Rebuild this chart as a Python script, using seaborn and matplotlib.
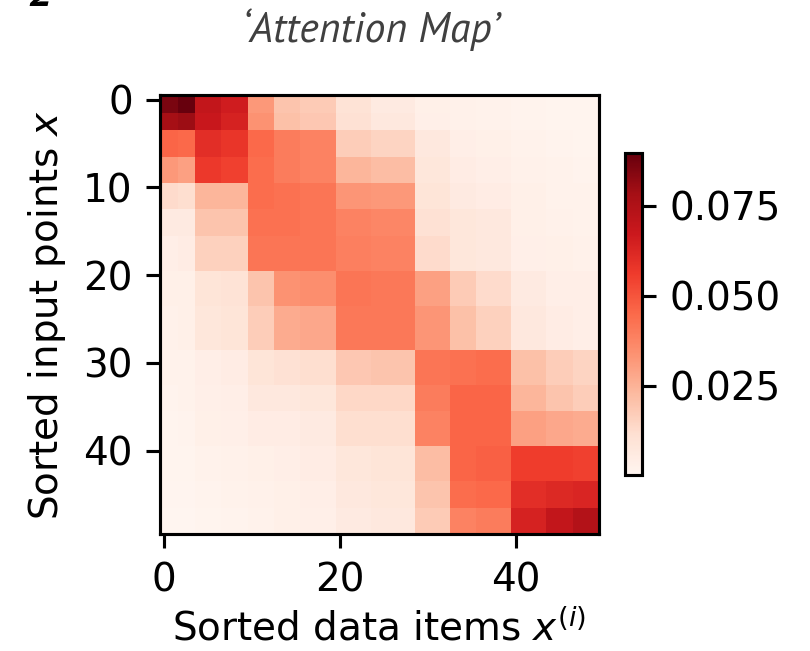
import numpy as np
import matplotlib
matplotlib.use("Agg")
import matplotlib.pyplot as plt
from matplotlib import font_manager
import seaborn as sns

# Segment edges (in sorted index units) shared by rows (input points) and columns (data items)
seg_edges = [0, 2, 4, 7, 10, 13, 16, 20, 24, 29, 33, 36, 40, 44, 47, 50]

# Attention weight per (row segment, column segment), in units of 1e-3
seg_weights = [
    [86.0, 89.6, 70.0, 66.0, 32.0, 20.0, 18.0, 10.0,  6.0,  3.0,  2.5,  2.0,  1.5,  1.2,  1.0],
    [78.0, 80.0, 68.0, 64.0, 34.0, 21.0, 19.0, 11.0,  7.0,  3.5,  2.5,  2.0,  1.5,  1.2,  1.0],
    [46.0, 45.0, 60.0, 58.0, 45.0, 40.0, 38.0, 17.0, 15.0,  7.0,  4.0,  3.0,  2.0,  1.5,  1.2],
    [32.0, 30.0, 57.0, 55.0, 44.0, 40.0, 38.0, 24.0, 22.0,  8.0,  5.0,  4.0,  2.5,  2.0,  1.5],
    [13.0, 12.0, 24.0, 24.0, 44.0, 43.0, 42.0, 33.0, 32.0,  9.0,  6.0,  5.0,  3.0,  2.0,  2.0],
    [ 6.0,  6.0, 20.0, 20.0, 43.0, 43.0, 42.0, 38.0, 37.0, 11.0,  8.0,  7.0,  3.0,  2.5,  2.0],
    [ 4.0,  5.0, 16.0, 16.0, 42.0, 42.0, 42.0, 39.0, 38.0, 13.0,  8.0,  7.0,  3.5,  3.0,  2.5],
    [ 3.0,  3.0,  9.0, 10.0, 20.0, 34.0, 35.0, 42.0, 41.0, 30.0, 18.0, 13.0,  6.0,  4.0,  4.0],
    [ 2.5,  3.0,  8.0,  9.0, 17.0, 27.0, 28.0, 41.0, 41.0, 33.0, 21.0, 16.0,  7.0,  5.0,  4.0],
    [ 2.0,  2.0,  4.0,  5.0,  9.0, 11.0, 12.0, 19.0, 20.0, 42.0, 43.0, 44.0, 21.0, 17.0, 15.0],
    [ 1.5,  2.0,  3.5,  4.0,  7.0,  7.0,  8.0, 14.0, 14.0, 40.0, 46.0, 46.0, 24.0, 20.0, 17.0],
    [ 1.2,  1.5,  3.0,  3.5,  5.0,  5.0,  6.0, 12.0, 12.0, 38.0, 46.0, 46.0, 30.0, 28.0, 27.0],
    [ 1.0,  1.0,  2.0,  2.5,  3.0,  4.0,  5.0,  8.0,  9.0, 22.0, 46.0, 47.0, 56.0, 56.0, 55.0],
    [ 0.6,  0.8,  1.5,  2.0,  2.5,  3.0,  4.0,  7.0,  8.0, 20.0, 44.0, 45.0, 60.0, 62.0, 63.0],
    [ 0.2,  0.5,  1.0,  1.5,  2.0,  3.0,  3.5,  6.0,  7.0, 18.0, 38.0, 40.0, 64.0, 70.0, 74.0],
]

x_tick_labels = ["0", "20", "40"]
y_tick_labels = ["0", "10", "20", "30", "40"]
cbar_ticks = [0.025, 0.050, 0.075]

# Expand segment weights to the full 50 x 50 attention matrix
seg_sizes = np.diff(seg_edges)
attention = np.repeat(np.repeat(np.array(seg_weights) * 1e-3, seg_sizes, axis=0), seg_sizes, axis=1)

plt.rcParams["font.family"] = "DejaVu Sans"
plt.rcParams["mathtext.fontset"] = "dejavusans"


def pick_family(candidates):
    """First family that ships both a regular-weight and a bold italic face."""
    faces = {}
    for f in font_manager.fontManager.ttflist:
        if f.style == "italic":
            faces.setdefault(f.name, set()).add(int(f.weight) if str(f.weight).isdigit() else 400)
    for name in candidates:
        w = faces.get(name, set())
        if 400 in w and 700 in w:
            return name
    return "DejaVu Sans"


title_family = pick_family(["PT Sans", "Source Sans Pro", "Fira Sans", "Open Sans", "Lato"])

dpi = 280
fig = plt.figure(figsize=(810 / dpi, 651 / dpi), dpi=dpi)
ax = fig.add_axes([0.1975, 0.1797, 0.542, 0.674])
cax = fig.add_axes([0.7716, 0.2704, 0.021, 0.4946])

sns.heatmap(attention, cmap="Reds", ax=ax, cbar_ax=cax,
            xticklabels=False, yticklabels=False)

for sp in ax.spines.values():
    sp.set_visible(True)
    sp.set_linewidth(0.8)
    sp.set_color("black")

ax.set_xticks([int(t) + 0.5 for t in x_tick_labels])
ax.set_xticklabels(x_tick_labels, rotation=0)
ax.set_yticks([int(t) + 0.5 for t in y_tick_labels])
ax.set_yticklabels(y_tick_labels, rotation=0)
ax.tick_params(length=3.5, width=0.8, labelsize=10, color="black")

ax.set_xlabel("Sorted data items $x^{(i)}$", fontsize=10, labelpad=2.5)
ax.set_ylabel("Sorted input points $x$", fontsize=10)

cbar = ax.collections[0].colorbar
cbar.outline.set_visible(True)
cbar.outline.set_linewidth(0.8)
cbar.outline.set_edgecolor("black")
cbar.set_ticks(cbar_ticks)
cbar.set_ticklabels([f"{t:.3f}" for t in cbar_ticks])
cbar.ax.tick_params(length=3.5, width=0.8, labelsize=10)

title = fig.text(0.458, 0.936, "\u2018Attention Map\u2019", family=title_family, style="italic",
                 fontweight="normal", fontsize=10.5, color="#404040", ha="center", va="baseline")

# Fit the title to a width of about 258 px
renderer = fig.canvas.get_renderer()
w = title.get_window_extent(renderer).width
title.set_fontsize(10.5 * 258.0 / w)

# Panel label sitting at the top edge of the figure
fig.text(0.034, 0.991, "2", family=title_family, style="italic", fontweight="bold",
         fontsize=11.5, color="black", ha="left", va="baseline")

fig.savefig("out.png", dpi=dpi)
